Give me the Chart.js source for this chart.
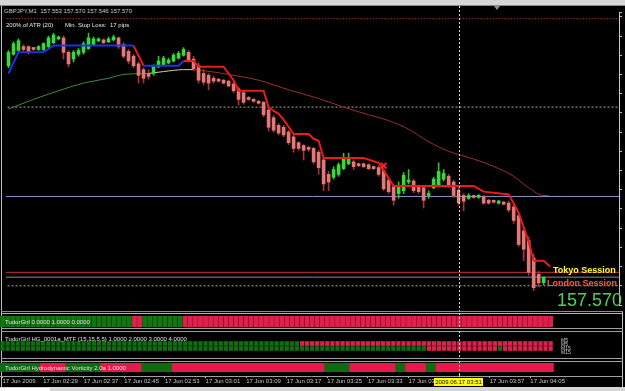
<!DOCTYPE html>
<html>
<head>
<meta charset="utf-8">
<script src="https://cdn.jsdelivr.net/npm/chart.js@4.4.1/dist/chart.umd.min.js"></script>
<style>
  html, body { margin: 0; padding: 0; background: #000; overflow: hidden; width: 625px; height: 391px; }
  body { position: relative; font-family: "Liberation Sans", Arial, sans-serif; }
  canvas { position: absolute; left: 0; z-index: 1; }
  .ln { position: absolute; z-index: 0; }
  .tx { position: absolute; z-index: 2; white-space: pre; line-height: 1; }
</style>
</head>
<body>

<!-- window chrome and panel frames -->
<div class="ln" style="left:0;top:0;width:625px;height:5px;background:#d6d6d6;"></div>
<div class="ln" style="left:0;top:5px;width:625px;height:1px;background:#8a8a8a;"></div>
<div class="ln" style="left:1px;top:6px;width:1px;height:381px;background:#bdbdbd;"></div>
<div class="ln" style="left:622px;top:311px;width:1px;height:76px;background:#c4c4c4;"></div>
<div class="ln" style="left:1px;top:311px;width:622px;height:1px;background:#8c8c8c;"></div>
<div class="ln" style="left:1px;top:313px;width:622px;height:1px;background:#b4b4b4;"></div>
<div class="ln" style="left:1px;top:328px;width:622px;height:1px;background:#a0a0a0;"></div>
<div class="ln" style="left:1px;top:331px;width:622px;height:1px;background:#a0a0a0;"></div>
<div class="ln" style="left:1px;top:358px;width:622px;height:1px;background:#a0a0a0;"></div>
<div class="ln" style="left:1px;top:361px;width:622px;height:1px;background:#a0a0a0;"></div>
<div class="ln" style="left:0;top:387px;width:625px;height:4px;background:#d6d6d6;"></div>
<div class="ln" style="left:0;top:388px;width:50px;height:3px;background:#fff;z-index:3;"></div>
<div class="ln" style="left:494px;top:6px;width:0;height:0;border-left:3px solid transparent;border-right:3px solid transparent;border-top:4px solid #909090;z-index:3;"></div>

<canvas id="main" width="625" height="305" style="top:6px"></canvas>
<canvas id="p1" width="625" height="16" style="top:313px"></canvas>
<canvas id="p2" width="625" height="27" style="top:331px"></canvas>
<canvas id="p3" width="625" height="15" style="top:361px"></canvas>
<canvas id="axis" width="625" height="12" style="top:375px"></canvas>

<div class="tx" style="left:3px;top:8px;font-size:6px;color:#c8c8c8;background:#000;padding:0 3px 0 1px;">GBPJPY,M1  157.553 157.570 157.546 157.570</div>
<div class="tx" style="left:6px;top:22px;font-size:6px;color:#e8e8e8;">200% of ATR (20)</div>
<div class="tx" style="left:65px;top:22px;font-size:6px;color:#e8e8e8;">Min. Stop Loss:</div>
<div class="tx" style="left:110px;top:22px;font-size:6px;color:#e8e8e8;">17 pips</div>

<div class="tx" style="left:553px;top:266px;font-size:9px;font-weight:bold;color:#ffff33;">Tokyo Session</div>
<div class="tx" style="left:547px;top:279px;font-size:9px;font-weight:bold;color:#ff5a30;">London Session</div>
<div class="tx" style="left:557px;top:291px;font-size:18px;color:#4fd14f;">157.570</div>

<div class="tx" style="left:5px;top:319px;font-size:6px;color:#e0e0e0;">TudorGirl 0.0000 1.0000 0.0000</div>
<div class="tx" style="left:5px;top:336px;font-size:6px;color:#e0e0e0;">TudorGirl HG_0001a_MTF (15,15,5,5) 1.0000 2.0000 3.0000 4.0000</div>
<div class="tx" style="left:5px;top:365px;font-size:6px;color:#e0e0e0;">TudorGirl Hydrodynamic Vorticity 2.0a 1.0000</div>
<div class="tx" style="left:561px;top:338px;font-size:5px;color:#c8c8c8;">M5</div>
<div class="tx" style="left:561px;top:342px;font-size:5px;color:#c8c8c8;">M5</div>
<div class="tx" style="left:561px;top:346px;font-size:5px;color:#c8c8c8;">M15</div>
<div class="tx" style="left:561px;top:350px;font-size:5px;color:#c8c8c8;">M15</div>

<div class="tx" style="left:434px;top:378px;width:49px;height:8px;line-height:8px;text-align:center;font-size:6px;color:#000;background:#ffff00;">2009.06.17 03:51</div>

<script>
// GBPJPY M1, 17 Jun 2009 02:21 .. 04:08, one candle per minute
const open = [
  158.230, 158.266, 158.278, 158.290, 158.290, 158.284, 158.281, 158.281, 158.290, 158.302,
  158.314, 158.317, 158.272, 158.251, 158.266, 158.272, 158.284, 158.296, 158.308, 158.311,
  158.305, 158.311, 158.317, 158.296, 158.275, 158.260, 158.236, 158.218, 158.206, 158.206,
  158.227, 158.233, 158.239, 158.245, 158.254, 158.263, 158.272, 158.251, 158.230, 158.206,
  158.200, 158.191, 158.188, 158.185, 158.182, 158.173, 158.158, 158.146, 158.131, 158.125,
  158.119, 158.116, 158.092, 158.068, 158.044, 158.038, 158.023, 158.008, 157.990, 157.981,
  157.975, 157.972, 157.960, 157.936, 157.891, 157.882, 157.891, 157.909, 157.924, 157.930,
  157.924, 157.924, 157.921, 157.915, 157.912, 157.903, 157.873, 157.852, 157.831, 157.840,
  157.867, 157.870, 157.852, 157.849, 157.825, 157.849, 157.858, 157.876, 157.885, 157.867,
  157.843, 157.825, 157.816, 157.822, 157.819, 157.822, 157.810, 157.807, 157.801, 157.804,
  157.801, 157.789, 157.762, 157.714, 157.684, 157.630, 157.579, 157.553
];
const high = [
  158.278, 158.305, 158.314, 158.296, 158.293, 158.287, 158.293, 158.302, 158.323, 158.332,
  158.323, 158.323, 158.278, 158.278, 158.284, 158.305, 158.332, 158.320, 158.317, 158.314,
  158.320, 158.326, 158.320, 158.302, 158.281, 158.266, 158.242, 158.224, 158.218, 158.233,
  158.260, 158.260, 158.254, 158.269, 158.275, 158.287, 158.278, 158.260, 158.239, 158.218,
  158.206, 158.197, 158.191, 158.188, 158.185, 158.179, 158.164, 158.152, 158.134, 158.128,
  158.122, 158.119, 158.098, 158.074, 158.050, 158.044, 158.029, 158.014, 157.993, 157.984,
  157.978, 157.975, 157.966, 157.942, 157.900, 157.915, 157.927, 157.957, 157.957, 157.936,
  157.927, 157.927, 157.924, 157.918, 157.918, 157.909, 157.879, 157.858, 157.867, 157.897,
  157.906, 157.876, 157.858, 157.855, 157.840, 157.882, 157.927, 157.906, 157.891, 157.873,
  157.849, 157.831, 157.831, 157.825, 157.828, 157.825, 157.813, 157.810, 157.810, 157.807,
  157.807, 157.795, 157.768, 157.726, 157.696, 157.642, 157.588, 157.570
];
const low = [
  158.224, 158.263, 158.275, 158.275, 158.266, 158.278, 158.278, 158.278, 158.287, 158.299,
  158.311, 158.251, 158.227, 158.242, 158.260, 158.266, 158.281, 158.293, 158.305, 158.299,
  158.302, 158.308, 158.284, 158.254, 158.236, 158.224, 158.176, 158.176, 158.188, 158.200,
  158.224, 158.230, 158.236, 158.242, 158.251, 158.260, 158.242, 158.215, 158.176, 158.170,
  158.155, 158.176, 158.179, 158.173, 158.164, 158.146, 158.107, 158.110, 158.122, 158.116,
  158.110, 158.071, 158.026, 158.023, 158.014, 158.008, 157.984, 157.960, 157.966, 157.936,
  157.963, 157.924, 157.891, 157.840, 157.840, 157.876, 157.885, 157.906, 157.921, 157.906,
  157.915, 157.912, 157.906, 157.906, 157.885, 157.840, 157.831, 157.795, 157.816, 157.831,
  157.861, 157.834, 157.831, 157.786, 157.816, 157.846, 157.852, 157.870, 157.849, 157.819,
  157.795, 157.777, 157.813, 157.816, 157.816, 157.798, 157.798, 157.801, 157.798, 157.795,
  157.774, 157.738, 157.666, 157.621, 157.576, 157.528, 157.540, 157.546
];
const close = [
  158.272, 158.299, 158.308, 158.281, 158.272, 158.281, 158.290, 158.299, 158.317, 158.326,
  158.320, 158.272, 158.236, 158.272, 158.278, 158.299, 158.317, 158.314, 158.314, 158.302,
  158.314, 158.320, 158.290, 158.260, 158.245, 158.230, 158.200, 158.191, 158.197, 158.227,
  158.245, 158.254, 158.248, 158.263, 158.269, 158.281, 158.248, 158.221, 158.185, 158.179,
  158.176, 158.182, 158.182, 158.176, 158.167, 158.152, 158.125, 158.116, 158.125, 158.119,
  158.113, 158.077, 158.038, 158.029, 158.020, 158.014, 157.990, 157.972, 157.972, 157.966,
  157.969, 157.930, 157.912, 157.861, 157.867, 157.906, 157.921, 157.939, 157.942, 157.915,
  157.918, 157.915, 157.909, 157.909, 157.891, 157.846, 157.837, 157.810, 157.852, 157.888,
  157.873, 157.840, 157.837, 157.810, 157.831, 157.876, 157.900, 157.894, 157.855, 157.825,
  157.801, 157.807, 157.825, 157.819, 157.822, 157.801, 157.801, 157.804, 157.807, 157.798,
  157.780, 157.747, 157.672, 157.657, 157.585, 157.537, 157.552, 157.570
];

// trailing stop, [bar, price]; null breaks the line
const stopLong = [
  [0, 158.206], [2, 158.272], [7, 158.272], [9, 158.293], [25, 158.293], [26, null],
  [27, 158.230], [34, 158.230], [35, 158.245]
];
const stopShort = [
  [25, 158.293], [27, 158.230], [28, null],
  [35, 158.245], [37, 158.245], [38, 158.227], [43, 158.227], [45, 158.185], [46, 158.152],
  [51, 158.152], [52, 158.101], [53, 158.089], [54, 158.080], [55, 158.062], [57, 158.017],
  [60, 158.017], [61, 158.002], [62, 157.996], [63, 157.942], [71, 157.942], [74, 157.927],
  [77, 157.855], [93, 157.855], [95, 157.837], [100, 157.828], [101, 157.801], [102, 157.771],
  [103, 157.726], [104, 157.681], [105, 157.621], [107, 157.621], [108.3, 157.603]
];
const stopHit = [[75, 157.918]];

// moving average, coloured by slope
const maRise = [[0, 158.095], [5, 158.125], [10, 158.152], [15, 158.176], [20, 158.191], [23, 158.203], [28, 158.206]];
const maFlat = [[28, 158.206], [31, 158.212], [35, 158.218], [37, 158.218]];
const maFall = [
  [37, 158.218], [39, 158.215], [44, 158.203], [50, 158.185], [56, 158.155], [62, 158.128],
  [67, 158.101], [72, 158.077], [76, 158.059], [80, 158.032], [84, 157.993], [88, 157.963],
  [93, 157.939], [98, 157.909], [101, 157.885], [104, 157.849], [107, 157.825], [108, 157.825]
];

// horizontal levels: day high, crosshair, session lines, bid, crosshair low
const hLevels = [158.377, 158.101, 157.822, 157.585, 157.570, 157.543];

// indicator windows, 1 = up (green), 0 = down (red)
const trendA = [
  1,1,1,1,1,1,1,1,1,1, 1,1,1,1,1,1,1,1,1,1, 1,1,1,1,1,1,0,0,1,1, 1,1,1,1,1,1,0,0,0,0,
  0,0,0,0,0,0,0,0,0,0, 0,0,0,0,0,0,0,0,0,0, 0,0,0,0,0,0,0,0,0,0, 0,0,0,0,0,0,0,0,0,0,
  0,0,0,0,0,0,0,0,0,0, 0,0,0,0,0,0,0,0,0,0, 0,0,0,0,0,0,0,0,0
];
const mtfM5 = [
  1,1,1,1,1,1,1,1,1,1, 1,1,1,1,1,1,1,1,1,1, 1,1,1,1,1,1,1,1,1,1, 1,1,1,1,1,1,1,1,1,1,
  1,1,1,1,1,1,1,1,1,1, 1,1,1,1,1,1,1,1,1,0, 0,0,0,0,0,0,0,0,0,0, 0,0,0,0,0,0,0,0,0,0,
  0,0,0,0,0,0,0,0,0,0, 0,0,0,0,0,0,0,0,0,0, 0,0,0,0,0,0,0,0,0
];
const mtfM15 = [
  1,1,1,1,1,1,1,1,1,1, 1,1,1,1,1,1,1,1,1,1, 1,1,1,1,1,1,1,1,1,1, 1,1,1,1,1,1,1,1,1,1,
  1,1,1,1,1,1,1,1,1,1, 1,1,1,1,1,1,1,1,1,1, 1,1,1,1,1,1,1,1,1,1, 1,1,1,1,1,1,1,1,1,1,
  1,1,1,1,0,0,0,0,0,0, 0,0,0,0,0,0,0,0,1,0, 0,0,0,0,0,0,0,0,0
];
const vorticity = [
  1,1,1,1,1,1,1,1,0,0, 0,0,0,1,1,1,1,1,1,1, 0,0,0,0,0,0,0,0,1,1, 1,1,1,1,0,0,0,0,0,0,
  0,0,0,0,0,0,0,0,0,0, 0,0,0,0,0,0,0,0,0,0, 0,0,0,0,1,1,1,1,1,0, 0,0,0,0,0,0,0,0,1,1,
  0,0,0,0,1,1,0,0,0,0, 0,0,0,0,0,0,0,0,0,0, 0,0,0,0,0,0,0,0,0
];

// time axis
const tickIdx = [0, 8, 16, 24, 32, 40, 48, 56, 64, 72, 80, 96, 104];
const tickLabels = [
  '17 Jun 2009', '17 Jun 02:29', '17 Jun 02:37', '17 Jun 02:45', '17 Jun 02:53', '17 Jun 03:01',
  '17 Jun 03:09', '17 Jun 03:17', '17 Jun 03:25', '17 Jun 03:33', '17 Jun 03:41', '17 Jun 03:57',
  '17 Jun 04:05'
];
const cursorIdx = 90;

const yMin = 157.483, yMax = 158.398;

Chart.defaults.font.family = '"Liberation Sans", Arial, sans-serif';

const GREEN = '#127512', RED = '#e0204c';

const base = {
  responsive: false,
  animation: false,
  devicePixelRatio: 1,
  events: [],
  plugins: { legend: { display: false }, tooltip: { enabled: false } },
};

function xAxis() {
  return { type: 'linear', min: -0.5, max: 122.06, offset: false, bounds: 'data', display: false };
}

// dotted crosshair column, drawn in every window
const cursorLine = {
  id: 'cursorLine',
  afterDatasetsDraw(chart) {
    const x = Math.round(chart.scales.x.getPixelForValue(cursorIdx)) + 0.5;
    const ctx = chart.ctx;
    ctx.save();
    ctx.strokeStyle = '#d8d8d8';
    ctx.lineWidth = 1;
    ctx.setLineDash([2, 2]);
    ctx.beginPath();
    ctx.moveTo(x, 0);
    ctx.lineTo(x, chart.height);
    ctx.stroke();
    ctx.restore();
  }
};

const bars = open.map((_, i) => i);
const bull = bars.map(i => close[i] >= open[i]);
const pts = arr => arr.map(p => ({ x: p[0], y: p[1] }));

const levelStyle = [
  { color: '#a03434', dash: [1.5, 1.5] },
  { color: '#a8a8a8', dash: [2, 2] },
  { color: '#8c96c8', dash: [] },
  { color: '#c83030', dash: [] },
  { color: '#8c8c8c', dash: [] },
  { color: '#a8a8a8', dash: [2, 2] },
];

const levelSets = hLevels.map((p, k) => ({
  type: 'line',
  data: [{ x: -1, y: p }, { x: 123, y: p }],
  borderColor: levelStyle[k].color,
  borderDash: levelStyle[k].dash,
  borderWidth: 1,
  pointRadius: 0,
  order: 10,
}));

function maSet(arr, color) {
  return {
    type: 'line', data: pts(arr), borderColor: color, borderWidth: 1,
    pointRadius: 0, cubicInterpolationMode: 'monotone', order: 8,
  };
}

function stopSet(arr, color) {
  return {
    type: 'line', data: pts(arr), borderColor: color, borderWidth: 2,
    pointRadius: 0, tension: 0, spanGaps: false, order: 3,
  };
}

new Chart(document.getElementById('main'), {
  type: 'bar',
  data: {
    datasets: [
      ...levelSets,
      maSet(maRise, '#3c8a3c'),
      maSet(maFlat, '#d8d0a0'),
      maSet(maFall, '#9a3030'),
      {
        type: 'bar',
        data: bars.map(i => ({ x: i, y: [low[i], high[i]] })),
        backgroundColor: bars.map(i => bull[i] ? '#2fbf2f' : '#a83434'),
        barThickness: 1,
        grouped: false,
        order: 6,
      },
      {
        type: 'bar',
        data: bars.map(i => ({ x: i, y: [open[i], close[i]] })),
        backgroundColor: bars.map(i => bull[i] ? '#3ad83a' : '#e47878'),
        borderColor: '#f5a34a',
        borderWidth: ctx => ctx.dataIndex === cursorIdx ? 1 : 0,
        borderSkipped: false,
        barThickness: 3,
        minBarLength: 2,
        grouped: false,
        order: 5,
      },
      stopSet(stopLong, '#1a34e0'),
      stopSet(stopShort, '#ec1a1a'),
      {
        type: 'line',
        data: pts(stopHit),
        showLine: false,
        pointStyle: 'crossRot',
        pointRadius: 4,
        pointBorderWidth: 2,
        pointBorderColor: '#ff2020',
        order: 1,
      },
    ]
  },
  options: {
    ...base,
    layout: { padding: 0 },
    scales: {
      x: xAxis(),
      y: {
        position: 'right', min: yMin, max: yMax, bounds: 'data',
        grid: { drawOnChartArea: false, tickLength: 3, color: '#b8b8b8' },
        border: { color: '#c8c8c8' },
        ticks: { display: false, stepSize: 0.06 },
        afterFit(s) { s.width = 3; },
      },
    },
  },
  plugins: [cursorLine],
});

function panel(id, padTop, padBottom, yTop, datasets) {
  new Chart(document.getElementById(id), {
    type: 'bar',
    data: { datasets },
    options: {
      ...base,
      layout: { padding: { top: padTop, bottom: padBottom, left: 0, right: 3 } },
      scales: {
        x: xAxis(),
        y: { display: false, min: 0, max: yTop, bounds: 'data' },
      },
    },
    plugins: [cursorLine],
  });
}

function blocks(values, lo, hi, thick, g, r) {
  return {
    data: values.map((v, i) => ({ x: i, y: [lo, hi] })),
    backgroundColor: values.map(v => v ? g : r),
    barThickness: thick,
    grouped: false,
  };
}

panel('p1', 3, 2, 1, [blocks(trendA, 0, 1, 4.2, GREEN, RED)]);
panel('p2', 10, 7, 2, [
  blocks(mtfM5, 1.1, 1.9, 3.6, '#0f6e0f', RED),
  blocks(mtfM15, 0.1, 0.9, 3.6, '#0f6e0f', RED),
]);
panel('p3', 2, 4, 1, [blocks(vorticity, 0, 1, 5.6, '#0e6c0e', '#e8184c')]);

new Chart(document.getElementById('axis'), {
  type: 'line',
  data: { datasets: [] },
  options: {
    ...base,
    layout: { padding: { left: 0, right: 3, top: 0, bottom: 0 } },
    scales: {
      x: {
        type: 'linear', min: -0.5, max: 122.06, offset: false, bounds: 'data', position: 'bottom',
        grid: { drawOnChartArea: false, tickLength: 2, color: '#c0c0c0' },
        border: { color: '#a0a0a0' },
        ticks: {
          autoSkip: false, maxRotation: 0, minRotation: 0, align: 'start', padding: 0,
          color: '#c8c8c8', font: { size: 6 },
          callback: (v, i) => tickLabels[i],
        },
        afterBuildTicks(s) { s.ticks = tickIdx.map(v => ({ value: v })); },
        afterFit(s) { s.height = 11; },
      },
      y: { display: false },
    },
  },
  plugins: [cursorLine],
});
</script>
</body>
</html>
